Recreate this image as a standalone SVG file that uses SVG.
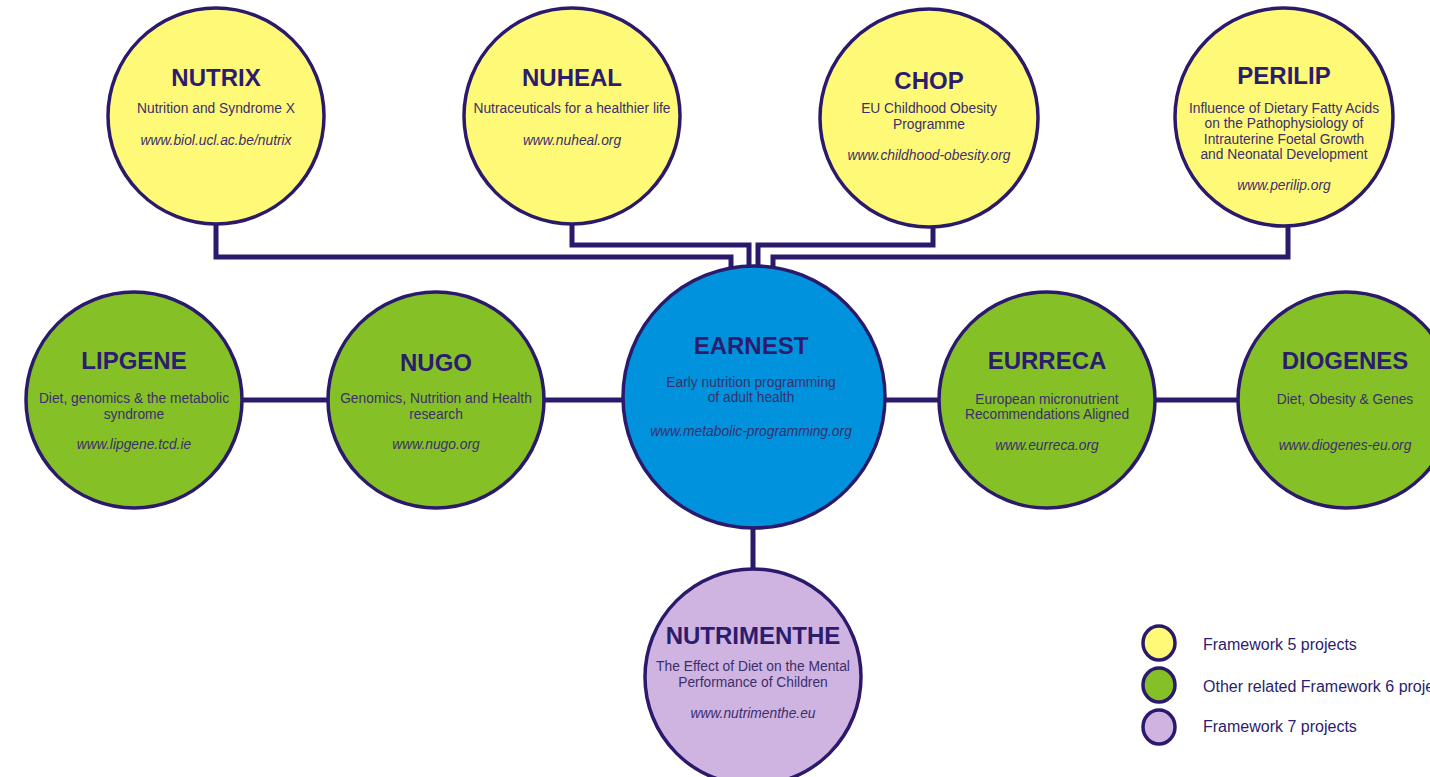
<svg xmlns="http://www.w3.org/2000/svg" width="1430" height="777" viewBox="0 0 1430 777">
<style>
.c{stroke:#2B1A6B;stroke-width:3.5}
.y{fill:#FFF978}.g{fill:#85C126}.b{fill:#0092DC}.p{fill:#CFB3E0}
.t{font-family:"Liberation Sans",Arial,sans-serif;font-weight:bold;font-size:24px;fill:#2B1C6E;text-anchor:middle}
.s{font-family:"Liberation Sans",Arial,sans-serif;font-size:13.8px;fill:#3B2F6B;text-anchor:middle}
.u{font-family:"Liberation Sans",Arial,sans-serif;font-size:13.8px;font-style:italic;fill:#3B2F6B;text-anchor:middle}
.l{font-family:"Liberation Sans",Arial,sans-serif;font-size:16px;fill:#2B1C6E}
.e{fill:none;stroke:#2B1A6B;stroke-width:5;stroke-linejoin:miter}
</style>
<rect width="1430" height="777" fill="#fff"/>
<g id="connectors">
<path class="e" d="M216 222 V257 H731 V272"/>
<path class="e" d="M572 222 V245 H749 V272"/>
<path class="e" d="M933 225 V245 H758 V272"/>
<path class="e" d="M1288 223 V257 H773 V272"/>
<path class="e" d="M240 400 H332"/>
<path class="e" d="M542 400 H625"/>
<path class="e" d="M883 400 H941"/>
<path class="e" d="M1154 400 H1241"/>
<path class="e" d="M753 525 V570"/>
</g>
<g id="nutrix">
<circle class="c y" cx="216" cy="116" r="108"/>
<text class="t" x="216" y="86">NUTRIX</text>
<text class="s" x="216" y="113">Nutrition and Syndrome X</text>
<text class="u" x="216" y="145">www.biol.ucl.ac.be/nutrix</text>
</g>
<g id="nuheal">
<circle class="c y" cx="572" cy="116" r="108"/>
<text class="t" x="572" y="86">NUHEAL</text>
<text class="s" x="572" y="113">Nutraceuticals for a healthier life</text>
<text class="u" x="572" y="145">www.nuheal.org</text>
</g>
<g id="chop">
<circle class="c y" cx="929" cy="118" r="109"/>
<text class="t" x="929" y="89">CHOP</text>
<text class="s" x="929" y="113">EU Childhood Obesity</text>
<text class="s" x="929" y="129">Programme</text>
<text class="u" x="929" y="160">www.childhood-obesity.org</text>
</g>
<g id="perilip">
<circle class="c y" cx="1284" cy="117" r="109"/>
<text class="t" x="1284" y="84">PERILIP</text>
<text class="s" x="1284" y="113">Influence of Dietary Fatty Acids</text>
<text class="s" x="1284" y="128">on the Pathophysiology of</text>
<text class="s" x="1284" y="144">Intrauterine Foetal Growth</text>
<text class="s" x="1284" y="159">and Neonatal Development</text>
<text class="u" x="1284" y="190">www.perilip.org</text>
</g>
<g id="lipgene">
<circle class="c g" cx="134" cy="400" r="108"/>
<text class="t" x="134" y="369">LIPGENE</text>
<text class="s" x="134" y="403">Diet, genomics &amp; the metabolic</text>
<text class="s" x="134" y="419">syndrome</text>
<text class="u" x="134" y="449">www.lipgene.tcd.ie</text>
</g>
<g id="nugo">
<circle class="c g" cx="436" cy="400" r="108"/>
<text class="t" x="436" y="371">NUGO</text>
<text class="s" x="436" y="403">Genomics, Nutrition and Health</text>
<text class="s" x="436" y="419">research</text>
<text class="u" x="436" y="449">www.nugo.org</text>
</g>
<g id="earnest">
<circle class="c b" cx="754" cy="397" r="131"/>
<text class="t" x="751" y="354">EARNEST</text>
<text class="s" x="751" y="387">Early nutrition programming</text>
<text class="s" x="751" y="402">of adult health</text>
<text class="u" x="751" y="436">www.metabolic-programming.org</text>
</g>
<g id="eurreca">
<circle class="c g" cx="1047" cy="400" r="108"/>
<text class="t" x="1047" y="369">EURRECA</text>
<text class="s" x="1047" y="404">European micronutrient</text>
<text class="s" x="1047" y="419">Recommendations Aligned</text>
<text class="u" x="1047" y="450">www.eurreca.org</text>
</g>
<g id="diogenes">
<circle class="c g" cx="1346" cy="400" r="108"/>
<text class="t" x="1345" y="369">DIOGENES</text>
<text class="s" x="1345" y="404">Diet, Obesity &amp; Genes</text>
<text class="u" x="1345" y="450">www.diogenes-eu.org</text>
</g>
<g id="nutrimenthe">
<circle class="c p" cx="753" cy="677" r="108"/>
<text class="t" x="753" y="644">NUTRIMENTHE</text>
<text class="s" x="753" y="671">The Effect of Diet on the Mental</text>
<text class="s" x="753" y="687">Performance of Children</text>
<text class="u" x="753" y="718">www.nutrimenthe.eu</text>
</g>
<g id="legend">
<ellipse class="c y" cx="1159" cy="643" rx="16" ry="17"/>
<ellipse class="c g" cx="1159" cy="685" rx="16" ry="17"/>
<ellipse class="c p" cx="1159" cy="727" rx="16" ry="17"/>
<text class="l" x="1203" y="650">Framework 5 projects</text>
<text class="l" x="1203" y="692">Other related Framework 6 projects</text>
<text class="l" x="1203" y="732">Framework 7 projects</text>
</g>
</svg>
